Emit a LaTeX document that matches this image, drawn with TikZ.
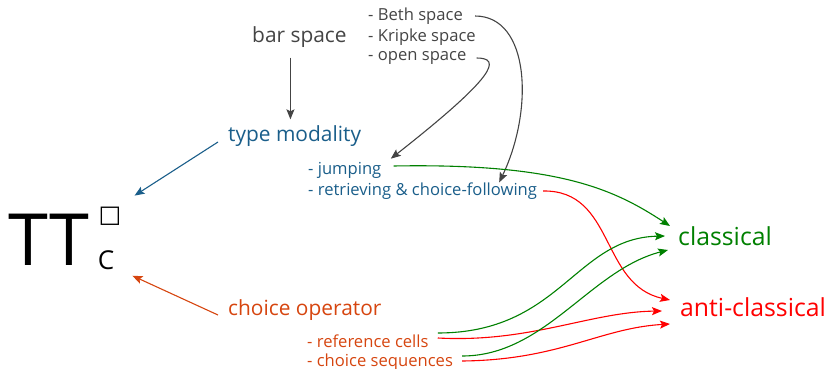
\documentclass[tikz,border=0pt]{standalone}
\usepackage{fontspec}
\setmainfont{Open Sans}
\newfontfamily\symf{DejaVu Sans}
\usetikzlibrary{arrows.meta}
\definecolor{cgray}{HTML}{444444}
\definecolor{cblue}{HTML}{1A5E8A}
\definecolor{corange}{HTML}{D6450F}
\definecolor{cgreen}{HTML}{008000}
\definecolor{cred}{HTML}{FF0000}
\begin{document}
\begin{tikzpicture}[x=1pt,y=-1pt,
  lbl/.style={inner sep=0pt, anchor=west},
  smallf/.style={font=\fontsize{16.6}{18}\selectfont},
  midf/.style={font=\fontsize{20.9}{24}\selectfont},
  bigf/.style={font=\fontsize{24.8}{28}\selectfont},
  arr/.style={-{Stealth[length=10pt,width=8pt,inset=2pt]}, line width=1.1pt}]
\useasboundingbox (0,0) rectangle (828,369);
% labels
\node[lbl, midf, text=cgray] (bar) at (252,37) {bar space};
\node[lbl, smallf, text=cgray] (beth) at (368,16) {- Beth space};
\node[lbl, smallf, text=cgray] (kripke) at (368,37) {- Kripke space};
\node[lbl, smallf, text=cgray] (open) at (368,58) {- open space};
\node[lbl, midf, text=cblue] (tm) at (228,136) {type modality};
\node[lbl, smallf, text=cblue] (jump) at (308,170) {- jumping};
\node[lbl, smallf, text=cblue] (retr) at (308,191) {- retrieving \& choice-following};
\node[lbl, midf, text=corange] (co) at (228,310) {choice operator};
\node[lbl, smallf, text=corange] (ref) at (307,341) {- reference cells};
\node[lbl, smallf, text=corange] (seq) at (307,362) {- choice sequences};
\node[lbl, bigf, text=cgreen] (cl) at (678,236) {classical};
\node[lbl, bigf, text=cred] (acl) at (680,307) {anti-classical};
\node[lbl, font=\fontsize{72}{80}\selectfont] (tt) at (8,240) {TT};
\node[inner sep=0pt, font=\symf\fontsize{24}{26}\selectfont] (box) at (110,216) {□};
\node[inner sep=0pt, font=\fontsize{26}{28}\selectfont] (c) at (106,260) {C};
% gray arrows
\draw[arr, cgray, shorten >=6pt] ([shift={(-9,10)}]bar.south) -- ([shift={(-9,0)}]bar.south |- tm.north);
\draw[arr, cgray] ([shift={(12,0)}]beth.east) .. controls (530,16) and (534,110) .. ([shift={(-38,0)}]retr.north east);
\draw[arr, cgray] ([shift={(10,0)}]open.east) .. controls (502,58) and (496,76) .. ([shift={(46,-3)}]jump.north);
% blue / orange to TT
\draw[arr, cblue] ([shift={(-10,6)}]tm.west) -- ([shift={(13,-11)}]box.north east);
\draw[arr, corange] ([shift={(-10,5)}]co.west) -- ([shift={(18,6)}]c.south east);
% green / red
\draw[arr, cgreen] ([shift={(12,-4)}]jump.east) .. controls (560,163) and (615,190) .. ([shift={(-8,-10)}]cl.west);
\draw[arr, cred] ([shift={(6,0)}]retr.east) .. controls (615,190) and (600,285) .. ([shift={(-10,-7)}]acl.west);
\draw[arr, cgreen] ([shift={(9,-8)}]ref.east) .. controls (560,333) and (575,238) .. ([shift={(-13,0)}]cl.west);
\draw[arr, cred] ([shift={(9,-3)}]ref.east) .. controls (530,343) and (590,312) .. ([shift={(-18,4)}]acl.west);
\draw[arr, cgreen] ([shift={(9,-6)}]seq.east) .. controls (545,356) and (590,270) .. ([shift={(-10,14)}]cl.west);
\draw[arr, cred] ([shift={(9,-1)}]seq.east) .. controls (560,360) and (600,328) .. ([shift={(-10,17)}]acl.west);
\end{tikzpicture}
\end{document}
